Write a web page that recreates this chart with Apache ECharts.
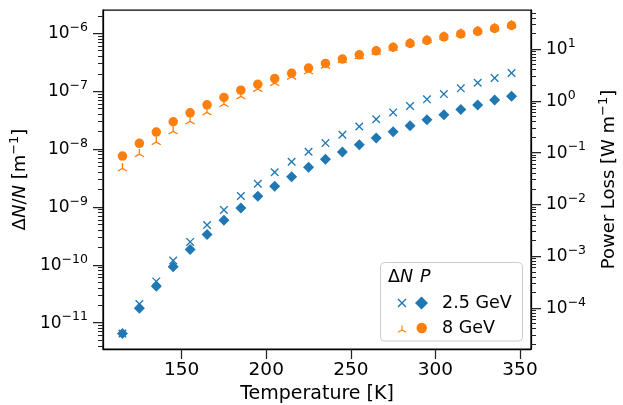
<!DOCTYPE html>
<html><head><meta charset="utf-8">
<script src="https://cdn.jsdelivr.net/npm/echarts@6/dist/echarts.min.js"></script>
<style>html,body{margin:0;padding:0;background:#fff}#c{width:623px;height:405px}</style>
</head><body><div id="c"></div>
<script>
// ---- data ----
const temperatures = [115,125,135,145,155,165,175,185,195,205,215,225,235,245,255,265,275,285,295,305,315,325,335,345];
// Delta N / N  [m^-1]  (left axis)
const dN_25 = [6.49e-12,2.11e-11,5.17e-11,1.19e-10,2.49e-10,4.89e-10,8.87e-10,1.55e-9,2.52e-9,3.97e-9,6.05e-9,9.01e-9,1.27e-8,1.77e-8,2.46e-8,3.28e-8,4.30e-8,5.55e-8,7.24e-8,8.91e-8,1.12e-7,1.40e-7,1.69e-7,2.06e-7];
const dN_8 = [4.65e-9,8.20e-9,1.32e-8,2.02e-8,3.01e-8,4.30e-8,5.98e-8,8.13e-8,1.09e-7,1.38e-7,1.78e-7,2.20e-7,2.76e-7,3.44e-7,4.02e-7,4.81e-7,5.64e-7,6.71e-7,7.60e-7,8.73e-7,9.80e-7,1.09e-6,1.22e-6,1.37e-6];
// Power loss [W m^-1] (right axis)
const P_25 = [3.21e-5,9.91e-5,2.64e-4,6.28e-4,1.35e-3,2.63e-3,4.96e-3,8.53e-3,1.44e-2,2.23e-2,3.42e-2,5.19e-2,7.41e-2,0.103,0.142,0.192,0.253,0.328,0.432,0.535,0.676,0.830,1.03,1.22];
const P_8 = [0.0858,0.151,0.249,0.394,0.587,0.837,1.16,1.60,2.08,2.68,3.39,4.27,5.26,6.37,7.71,9.21,10.8,12.8,14.7,17.2,19.5,21.9,24.9,28.5];
const xTicks = [150,200,250,300,350];
const leftMajor = [1e-11,1e-10,1e-9,1e-8,1e-7,1e-6];
const rightMajor = [1e-4,1e-3,1e-2,1e-1,1,10];
const seriesLabels = ['2.5 GeV','8 GeV'];

// ---- helpers ----
const BLUE = '#1f77b4', ORANGE = '#ff7f0e';
const FONT = 'DejaVu Sans';
function linLimits(arr){const mn=Math.min(...arr),mx=Math.max(...arr),s=mx-mn;return [mn-0.05*s,mx+0.05*s];}
function logLimits(arrs){const all=[].concat(...arrs).map(Math.log10);const [a,b]=linLimits(all);return [Math.pow(10,a),Math.pow(10,b)];}
function minorTicks(lim){const out=[];const lo=Math.floor(Math.log10(lim[0])),hi=Math.ceil(Math.log10(lim[1]));
  for(let e=lo;e<=hi;e++){for(let k=2;k<=9;k++){const v=k*Math.pow(10,e);if(v>=lim[0]&&v<=lim[1])out.push(v);}}return out;}
const xLim = linLimits(temperatures);
const leftLim = logLimits([dN_25,dN_8]);
const rightLim = logLimits([P_25,P_8]);

const xSym = 'path://M0,1.1L1.1,0L10,8.9L8.9,10Z M8.9,0L10,1.1L1.1,10L0,8.9Z';
const diaSym = 'path://M5,0L10,5L5,10L0,5Z';
function makeTri(){const c=[10,10],L=10,w=1.25;const dirs=[[0,-1],[-0.866,0.5],[0.866,0.5]];
  let s='path://M0,0 M20,20 ';
  const f=p=>p[0].toFixed(3)+','+p[1].toFixed(3);
  dirs.forEach(u=>{const n=[-u[1],u[0]];
    const p1=[c[0]+n[0]*w,c[1]+n[1]*w],p2=[c[0]+u[0]*L+n[0]*w,c[1]+u[1]*L+n[1]*w],
          p3=[c[0]+u[0]*L-n[0]*w,c[1]+u[1]*L-n[1]*w],p4=[c[0]-n[0]*w,c[1]-n[1]*w];
    s+='M'+f(p1)+'L'+f(p2)+'L'+f(p3)+'L'+f(p4)+'Z ';});
  return s;}
const triSym = makeTri();

const SUP = {
  b:{fontSize:17,fontFamily:FONT,color:'#000',verticalAlign:'bottom',lineHeight:18},
  s:{fontSize:12.5,fontFamily:FONT,color:'#000',verticalAlign:'bottom',padding:[0,0,8,0],lineHeight:13}
};
function logLabel(v){const e=Math.round(Math.log10(v));return '{b|10}{s|'+(e<0?'\u2212'+(-e):String(e))+'}';}
const NAME_RICH = {
  r:{fontSize:18,fontFamily:FONT,color:'#000',verticalAlign:'bottom',lineHeight:20},
  i:{fontSize:18,fontFamily:FONT,color:'#000',fontStyle:'italic',verticalAlign:'bottom',lineHeight:20},
  s:{fontSize:13,fontFamily:FONT,color:'#000',verticalAlign:'bottom',padding:[0,0,8,0],lineHeight:14}
};
const AX_LINE = {show:true,lineStyle:{color:'#000',width:1.25}};
function majorTick(vals){return {show:true,customValues:vals,length:10,lineStyle:{color:'#222',width:1.25}};}
function minorTick(vals){return {show:true,customValues:vals,length:5,lineStyle:{color:'#222',width:1}};}

function yAxis(pos,lim,major,withName){
  const ax = {type:'log',position:pos,min:lim[0],max:lim[1],splitLine:{show:false},
    axisLine: withName?AX_LINE:{show:false},
    axisTick: withName?majorTick(major):minorTick(minorTicks(lim)),
    axisLabel: withName?{show:true,customValues:major,formatter:logLabel,rich:SUP,margin:15}:{show:false},
    axisPointer:{show:false}};
  return ax;
}
const yAxes = [yAxis('left',leftLim,leftMajor,true), yAxis('right',rightLim,rightMajor,true),
               yAxis('left',leftLim,leftMajor,false), yAxis('right',rightLim,rightMajor,false)];
yAxes[0].name = '{r|\u0394}{i|N}{r|/}{i|N}{r| [m}{s|\u22121}{r|]}';
yAxes[0].nameLocation = 'middle'; yAxes[0].nameGap = 71; yAxes[0].nameTextStyle = {rich:NAME_RICH};
yAxes[1].name = '{r|Power Loss [W m}{s|\u22121}{r|]}';
yAxes[1].nameLocation = 'middle'; yAxes[1].nameGap = 61; yAxes[1].nameTextStyle = {rich:NAME_RICH};

function pairs(vals){return temperatures.map((t,i)=>[t,vals[i]]);}
const series = [
  {type:'scatter',name:'\u0394N '+seriesLabels[0],yAxisIndex:0,data:pairs(dN_25),symbol:xSym,symbolSize:8.5,itemStyle:{color:BLUE,opacity:1}},
  {type:'scatter',name:'\u0394N '+seriesLabels[1],yAxisIndex:0,data:pairs(dN_8),symbol:triSym,symbolSize:10.5,itemStyle:{color:ORANGE,opacity:1}},
  {type:'scatter',name:'P '+seriesLabels[0],yAxisIndex:1,data:pairs(P_25),symbol:'diamond',symbolSize:11,itemStyle:{color:BLUE,opacity:1}},
  {type:'scatter',name:'P '+seriesLabels[1],yAxisIndex:1,data:pairs(P_8),symbol:'circle',symbolSize:9.5,itemStyle:{color:ORANGE,opacity:1}}
].map(s=>Object.assign(s,{xAxisIndex:0,emphasis:{disabled:true},animation:false}));

function legendText(g){return {fontSize:17.5,fontFamily:FONT,color:'#000',lineHeight:20,rich:{g:{width:g,fontSize:17.5,lineHeight:20},t:{fontSize:17.5,fontFamily:FONT,color:'#000',lineHeight:20}}};}
const labelFmt = n=>'{g| }{t|'+n.replace(/^P /,'')+'}';
const option = {
  animation:false,
  textStyle:{fontFamily:FONT},
  grid:{left:103,right:92,top:10,bottom:56,show:true,borderColor:'#000',borderWidth:1.25,outerBoundsMode:'none',containLabel:false},
  xAxis:{type:'value',min:xLim[0],max:xLim[1],splitLine:{show:false},axisLine:AX_LINE,
    axisTick:majorTick(xTicks),
    axisLabel:{customValues:xTicks,fontSize:18.5,fontFamily:FONT,color:'#000',margin:12},
    name:'Temperature [K]',nameLocation:'middle',nameGap:35,nameTextStyle:{fontSize:19,fontFamily:FONT,color:'#000'},
    axisPointer:{show:false}},
  yAxis:yAxes,
  series:series,
  legend:[
    {orient:'vertical',left:397.5,top:293,padding:0,itemGap:7,itemWidth:9,itemHeight:9,
     data:[{name:series[0].name,icon:xSym},{name:series[1].name,icon:triSym}],
     formatter:()=>' ',textStyle:legendText(0),selectedMode:false},
    {orient:'vertical',left:415,top:293,padding:0,itemWidth:13,itemHeight:13,
     data:[{name:series[2].name,icon:diaSym}],
     formatter:labelFmt,textStyle:legendText(9),selectedMode:false},
    {orient:'vertical',left:416.5,top:318,padding:0,itemWidth:10.5,itemHeight:10.5,
     data:[{name:series[3].name,icon:'circle'}],
     formatter:labelFmt,textStyle:legendText(10),selectedMode:false}
  ],
  graphic:[
    {type:'rect',z:3,shape:{x:380.5,y:262.5,width:142,height:78.5,r:4},style:{fill:'rgba(255,255,255,0.8)',stroke:'#cccccc',lineWidth:1}},
    {type:'text',z:5,x:388,y:277,style:{text:'{r|\u0394}{i|N}{g| }{i|P}',verticalAlign:'middle',
      rich:{r:{fontSize:17.5,fontFamily:FONT,fill:'#000'},i:{fontSize:17.5,fontFamily:FONT,fontStyle:'italic',fill:'#000'},g:{width:7,fontSize:17.5}}}}
  ]
};
const chart = echarts.init(document.getElementById('c'),null,{renderer:'canvas'});
chart.setOption(option);
</script>
</body></html>
